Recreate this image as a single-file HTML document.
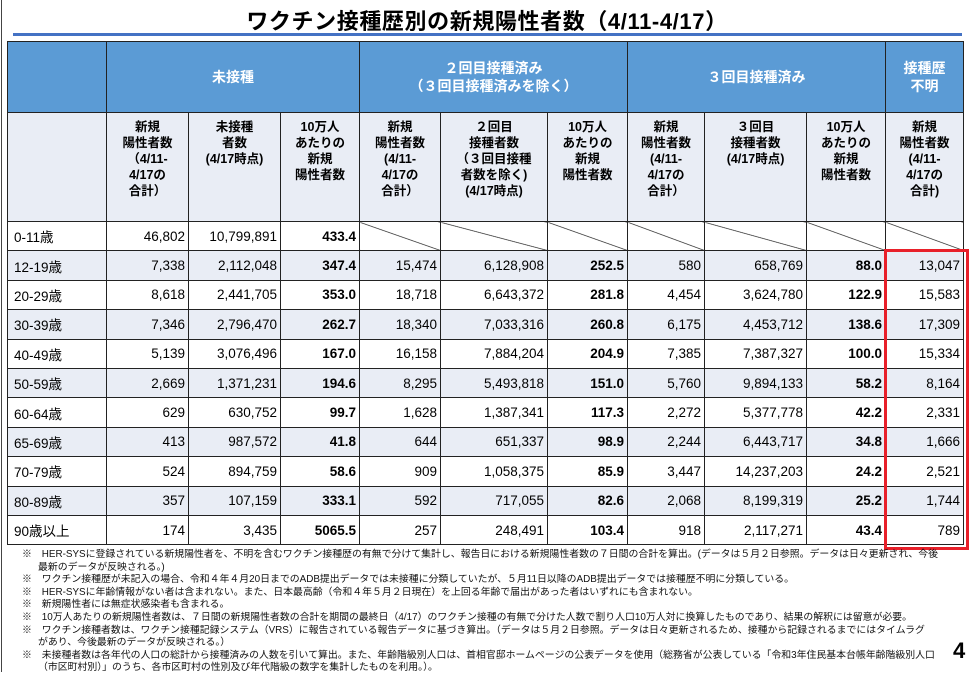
<!DOCTYPE html>
<html><head><meta charset="utf-8">
<style>
*{margin:0;padding:0;box-sizing:border-box}
body{width:974px;height:672px;background:#fff;position:relative;overflow:hidden;font-family:"Liberation Sans","Noto Sans CJK JP",sans-serif;color:#000}
.lb{position:absolute;left:1px;top:0;width:1px;height:672px;background:#444}
.title{position:absolute;left:0;width:974px;top:4px;text-align:center;font-size:22px;font-weight:bold;letter-spacing:0.6px}
.bar{position:absolute;left:13px;top:33px;width:949px;height:3px;background:#4472c4}
table{position:absolute;left:7px;top:41px;border-collapse:collapse;table-layout:fixed;width:956px}
td{border:1.5px solid #222;font-size:13.5px;text-align:right;padding-right:3px;height:29.4px}
.h1 td{background:#5b9bd5;color:#fff;font-weight:bold;text-align:center;height:71px;font-size:14px;padding:0;line-height:18px}
.h2 td{background:#e9edf5;font-weight:bold;text-align:center;vertical-align:top;height:109px;font-size:12.5px;line-height:16px;padding:6px 0 0}
td.a{text-align:left;padding-left:6px}
tr.s td{background:#e9edf5}
b{font-weight:bold}
.d{background:linear-gradient(to top right,transparent calc(50% - 0.7px),#222 50%,transparent calc(50% + 0.7px))}
.red{position:absolute;left:884px;top:249px;width:85px;height:301px;border:3px solid #e8202a}
.notes{position:absolute;left:22px;top:549px;font-size:9.9px;line-height:12.6px;width:930px;color:#111}
.notes p{padding-left:16px;text-indent:-16px;white-space:nowrap}
.pg{position:absolute;left:953px;top:638px;font-size:22px;font-weight:bold}
</style></head><body>
<div class="lb"></div>
<div class="title">ワクチン接種歴別の新規陽性者数（4/11-4/17）</div>
<div class="bar"></div>
<table>
<colgroup><col style="width:99px"><col style="width:82px"><col style="width:92px"><col style="width:79px"><col style="width:81px"><col style="width:107px"><col style="width:80px"><col style="width:77px"><col style="width:102px"><col style="width:79px"><col style="width:78px"></colgroup>
<tr class="h1"><td></td><td colspan="3">未接種</td><td colspan="3">２回目接種済み<br>（３回目接種済みを除く）</td><td colspan="3">３回目接種済み</td><td>接種歴<br>不明</td></tr>
<tr class="h2"><td></td><td>新規<br>陽性者数<br>（4/11-<br>4/17の<br>合計）</td><td>未接種<br>者数<br>(4/17時点)</td><td>10万人<br>あたりの<br>新規<br>陽性者数</td><td>新規<br>陽性者数<br>(4/11-<br>4/17の<br>合計）</td><td>２回目<br>接種者数<br>（３回目接種<br>者数を除く)<br>(4/17時点)</td><td>10万人<br>あたりの<br>新規<br>陽性者数</td><td>新規<br>陽性者数<br>(4/11-<br>4/17の<br>合計）</td><td>３回目<br>接種者数<br>(4/17時点)</td><td>10万人<br>あたりの<br>新規<br>陽性者数</td><td>新規<br>陽性者数<br>(4/11-<br>4/17の<br>合計)</td></tr>
<tr><td class="a">0-11歳</td><td>46,802</td><td>10,799,891</td><td><b>433.4</b></td><td class="d"></td><td class="d"></td><td class="d"></td><td class="d"></td><td class="d"></td><td class="d"></td><td class="d"></td></tr>
<tr class="s"><td class="a">12-19歳</td><td>7,338</td><td>2,112,048</td><td><b>347.4</b></td><td>15,474</td><td>6,128,908</td><td><b>252.5</b></td><td>580</td><td>658,769</td><td><b>88.0</b></td><td>13,047</td></tr>
<tr><td class="a">20-29歳</td><td>8,618</td><td>2,441,705</td><td><b>353.0</b></td><td>18,718</td><td>6,643,372</td><td><b>281.8</b></td><td>4,454</td><td>3,624,780</td><td><b>122.9</b></td><td>15,583</td></tr>
<tr class="s"><td class="a">30-39歳</td><td>7,346</td><td>2,796,470</td><td><b>262.7</b></td><td>18,340</td><td>7,033,316</td><td><b>260.8</b></td><td>6,175</td><td>4,453,712</td><td><b>138.6</b></td><td>17,309</td></tr>
<tr><td class="a">40-49歳</td><td>5,139</td><td>3,076,496</td><td><b>167.0</b></td><td>16,158</td><td>7,884,204</td><td><b>204.9</b></td><td>7,385</td><td>7,387,327</td><td><b>100.0</b></td><td>15,334</td></tr>
<tr class="s"><td class="a">50-59歳</td><td>2,669</td><td>1,371,231</td><td><b>194.6</b></td><td>8,295</td><td>5,493,818</td><td><b>151.0</b></td><td>5,760</td><td>9,894,133</td><td><b>58.2</b></td><td>8,164</td></tr>
<tr><td class="a">60-64歳</td><td>629</td><td>630,752</td><td><b>99.7</b></td><td>1,628</td><td>1,387,341</td><td><b>117.3</b></td><td>2,272</td><td>5,377,778</td><td><b>42.2</b></td><td>2,331</td></tr>
<tr class="s"><td class="a">65-69歳</td><td>413</td><td>987,572</td><td><b>41.8</b></td><td>644</td><td>651,337</td><td><b>98.9</b></td><td>2,244</td><td>6,443,717</td><td><b>34.8</b></td><td>1,666</td></tr>
<tr><td class="a">70-79歳</td><td>524</td><td>894,759</td><td><b>58.6</b></td><td>909</td><td>1,058,375</td><td><b>85.9</b></td><td>3,447</td><td>14,237,203</td><td><b>24.2</b></td><td>2,521</td></tr>
<tr class="s"><td class="a">80-89歳</td><td>357</td><td>107,159</td><td><b>333.1</b></td><td>592</td><td>717,055</td><td><b>82.6</b></td><td>2,068</td><td>8,199,319</td><td><b>25.2</b></td><td>1,744</td></tr>
<tr><td class="a">90歳以上</td><td>174</td><td>3,435</td><td><b>5065.5</b></td><td>257</td><td>248,491</td><td><b>103.4</b></td><td>918</td><td>2,117,271</td><td><b>43.4</b></td><td>789</td></tr>
</table>
<div class="red"></div>
<div class="notes">
<p>※　HER-SYSに登録されている新規陽性者を、不明を含むワクチン接種歴の有無で分けて集計し、報告日における新規陽性者数の７日間の合計を算出。(データは５月２日参照。データは日々更新され、今後<br>最新のデータが反映される。)</p>
<p>※　ワクチン接種歴が未記入の場合、令和４年４月20日までのADB提出データでは未接種に分類していたが、５月11日以降のADB提出データでは接種歴不明に分類している。</p>
<p>※　HER-SYSに年齢情報がない者は含まれない。また、日本最高齢（令和４年５月２日現在）を上回る年齢で届出があった者はいずれにも含まれない。</p>
<p>※　新規陽性者には無症状感染者も含まれる。</p>
<p>※　10万人あたりの新規陽性者数は、７日間の新規陽性者数の合計を期間の最終日（4/17）のワクチン接種の有無で分けた人数で割り人口10万人対に換算したものであり、結果の解釈には留意が必要。</p>
<p>※　ワクチン接種者数は、ワクチン接種記録システム（VRS）に報告されている報告データに基づき算出。（データは５月２日参照。データは日々更新されるため、接種から記録されるまでにはタイムラグ<br>があり、今後最新のデータが反映される。）</p>
<p>※　未接種者数は各年代の人口の総計から接種済みの人数を引いて算出。また、年齢階級別人口は、首相官邸ホームページの公表データを使用（総務省が公表している「令和3年住民基本台帳年齢階級別人口<br>（市区町村別）」のうち、各市区町村の性別及び年代階級の数字を集計したものを利用。）。</p>
</div>
<div class="pg">4</div>
</body></html>
